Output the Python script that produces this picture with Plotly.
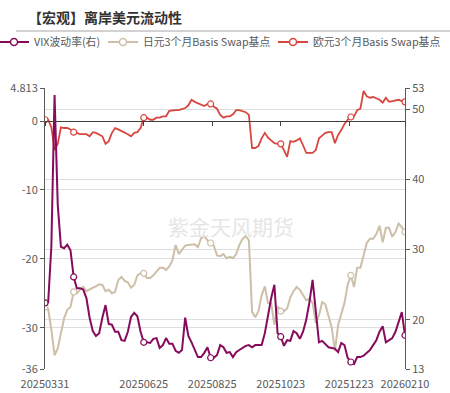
import plotly.graph_objects as go
import pandas as pd

# ---- data ----
dates = pd.bdate_range("2025-03-31", "2026-02-10").strftime("%Y%m%d").tolist()
sample_dates = dates[::2]
tick_labels = ["20250331", "20250625", "20250825", "20251023", "20251223", "20260210"]
marker_idx = [0, 9, 31, 52, 74, 96, 113]

vix = [22.4, 22.5, 30.5, 52.0, 36.4, 30.4, 30.2, 30.7, 29.9, 26.1,
       24.5, 24.5, 24.3, 23.1, 20.3, 18.4, 17.7, 18.1, 20.3, 22.1,
       19.4, 19.3, 18.3, 18.3, 17.1, 17.0, 18.3, 20.4, 21.0, 20.5,
       18.3, 16.8, 16.8, 16.7, 17.3, 17.4, 16.0, 16.4, 17.4, 16.6,
       16.6, 15.6, 15.3, 15.7, 20.3, 17.7, 16.8, 15.7, 14.7, 14.7,
       15.3, 16.1, 14.6, 14.6, 15.0, 16.4, 16.1, 15.3, 15.4, 14.7,
       15.4, 15.7, 16.0, 16.3, 16.4, 16.1, 16.4, 16.4, 16.4, 18.1,
       20.8, 23.1, 25.0, 18.1, 17.6, 16.3, 17.1, 17.0, 18.4, 18.1,
       17.3, 18.3, 20.0, 22.5, 25.7, 21.7, 16.8, 17.0, 16.6, 16.1,
       16.0, 15.9, 15.4, 16.7, 16.4, 14.6, 14.0, 13.7, 14.7, 14.7,
       14.9, 15.3, 15.7, 16.4, 17.1, 18.3, 19.1, 16.8, 17.1, 17.4,
       18.3, 19.7, 21.1, 17.8]

yen = [-27.0, -27.3, -30.3, -34.0, -33.0, -30.8, -28.6, -27.4, -27.0, -24.8,
       -25.0, -24.5, -24.1, -24.7, -24.4, -24.2, -24.0, -23.7, -23.8, -24.7,
       -24.5, -25.0, -24.8, -23.1, -22.6, -23.2, -23.4, -24.2, -23.8, -22.4,
       -22.1, -22.1, -22.8, -22.8, -22.4, -21.9, -21.3, -21.3, -21.6, -21.1,
       -20.2, -18.0, -19.3, -18.7, -18.1, -18.0, -17.9, -17.9, -18.3, -17.0,
       -16.7, -17.3, -17.7, -18.1, -19.5, -19.6, -19.3, -19.9, -19.7, -19.9,
       -19.3, -18.0, -17.1, -16.7, -17.3, -27.7, -28.5, -27.6, -25.3, -24.0,
       -26.4, -26.4, -29.6, -26.9, -27.6, -27.6, -27.2, -25.6, -24.7, -24.1,
       -24.5, -25.3, -26.0, -25.8, -26.4, -29.3, -28.2, -26.3, -26.6, -28.3,
       -30.0, -33.4, -29.6, -28.0, -26.4, -23.8, -22.4, -24.1, -21.3, -21.3,
       -19.5, -17.7, -17.1, -17.1, -16.4, -15.2, -17.6, -15.5, -15.5, -16.8,
       -16.1, -14.9, -15.4, -16.1]

eur = [0.2, 0.2, -0.9, -4.2, -3.3, -0.9, -1.0, -1.0, -1.2, -1.6,
       -1.7, -1.9, -1.9, -1.9, -2.2, -1.6, -1.7, -1.9, -2.2, -3.3,
       -2.9, -1.7, -1.0, -1.2, -1.4, -1.7, -1.9, -2.2, -1.7, -1.6,
       -1.0, 0.5, 0.5, 0.2, 0.2, 0.5, 0.5, 0.7, 0.7, 1.5,
       1.6, 1.6, 1.6, 1.8, 1.9, 2.3, 3.1, 2.8, 2.6, 2.4,
       2.2, 2.5, 2.5, 2.1, 1.8, 0.9, 0.5, 0.7, 0.7, 1.0,
       1.6, 1.6, 1.5, 1.3, 0.9, -3.9, -3.9, -3.6, -2.5, -1.7,
       -2.4, -2.8, -3.2, -3.3, -3.3, -4.2, -5.2, -2.9, -3.0, -2.8,
       -2.5, -3.5, -4.6, -4.6, -4.6, -4.2, -2.5, -2.1, -1.7, -1.6,
       -1.6, -3.2, -2.0, -1.3, -0.4, 0.2, 0.6, 0.7, 1.6, 1.8,
       4.4, 3.6, 3.4, 3.5, 3.3, 3.1, 2.7, 3.4, 2.8, 2.9,
       3.1, 3.1, 2.9, 2.8]

left_ticks = [-36, -30, -20, -10, 0, 4.813]
left_ticktext = ["-36", "-30", "-20", "-10", "0", "4.813"]
right_ticks = [13, 20, 30, 40, 50, 53]

names = ["VIX波动率(右)", "日元3个月Basis Swap基点", "欧元3个月Basis Swap基点"]
C_VIX, C_YEN, C_EUR = "#870B5C", "#CDBFA8", "#D8463F"
FONT = "Noto Sans CJK SC"

fig = go.Figure()

fig.add_annotation(text="紫金天风期货", xref="paper", yref="paper",
                   x=(231 - 45) / 360, y=(369 - 226) / 281, xanchor="center", yanchor="middle",
                   showarrow=False, font=dict(family=FONT, size=21, color="#e6e6e6"))

# main lines
fig.add_trace(go.Scatter(x=sample_dates, y=yen, mode="lines", line=dict(color=C_YEN, width=2),
                         yaxis="y", showlegend=False, hoverinfo="skip"))
fig.add_trace(go.Scatter(x=sample_dates, y=eur, mode="lines", line=dict(color=C_EUR, width=1.8),
                         yaxis="y", showlegend=False, hoverinfo="skip"))
fig.add_trace(go.Scatter(x=sample_dates, y=vix, mode="lines", line=dict(color=C_VIX, width=2),
                         yaxis="y2", showlegend=False, hoverinfo="skip"))

# sparse hollow markers
for ser, col, ax in [(yen, C_YEN, "y"), (eur, C_EUR, "y"), (vix, C_VIX, "y2")]:
    fig.add_trace(go.Scatter(x=[sample_dates[k] for k in marker_idx], y=[ser[k] for k in marker_idx],
                             mode="markers", yaxis=ax, showlegend=False, hoverinfo="skip",
                             marker=dict(symbol="circle", size=6, color="white",
                                         line=dict(color=col, width=1.2))))

# zero-line axis with ticks
fig.add_trace(go.Scatter(x=[0, len(dates) - 1], y=[None, None], xaxis="x2", yaxis="y",
                         showlegend=False, hoverinfo="skip"))

# legend entries
for nm, col, lg in [(names[0], C_VIX, "legend"), (names[1], C_YEN, "legend2"), (names[2], C_EUR, "legend3")]:
    fig.add_trace(go.Scatter(x=[None], y=[None], name=nm, mode="lines+markers", legend=lg,
                             line=dict(color=col, width=2),
                             marker=dict(symbol="circle", size=7, color="white", line=dict(color=col, width=1.5))))

L, R, T, B = 45, 45, 88, 24
W, H = 450, 393
pw, ph = W - L - R, H - T - B


def px_x(px):
    return (px - L) / pw


def px_y(py):
    return (H - B - py) / ph


leg_common = dict(orientation="h", yanchor="middle", xanchor="left", y=px_y(42),
                  font=dict(family=FONT, size=10.8, color="#595959"), bgcolor="rgba(0,0,0,0)",
                  itemwidth=30, borderwidth=0)

fig.update_layout(
    width=W, height=H,
    margin=dict(l=L, r=R, t=T, b=B, autoexpand=False),
    paper_bgcolor="white", plot_bgcolor="white",
    font=dict(family=FONT, size=11, color="#595959"),
    xaxis=dict(type="category", categoryorder="array", categoryarray=dates,
               range=[0, len(dates) - 1], tickmode="array", tickvals=tick_labels,
               ticks="", showgrid=False, showline=False, zeroline=False, ticklabelstandoff=7,
               tickfont=dict(family=FONT, size=11, color="#595959")),
    xaxis2=dict(overlaying="x", anchor="free", position=36 / 40.813, side="bottom",
                range=[0, len(dates) - 1], type="linear",
                tickmode="array", tickvals=[dates.index(t) for t in tick_labels],
                showticklabels=False, ticks="outside", ticklen=4, tickcolor="#404040",
                showline=True, linecolor="#404040", linewidth=1, showgrid=False, zeroline=False),
    yaxis=dict(range=[-36, 4.813], tickmode="array", tickvals=left_ticks, ticktext=left_ticktext,
               showline=True, linecolor="#595959", ticks="outside", ticklen=4, tickcolor="#595959",
               showgrid=True, gridcolor="#dedede", gridwidth=1, zeroline=False,
               tickfont=dict(family=FONT, size=11, color="#595959")),
    yaxis2=dict(overlaying="y", side="right", range=[13, 53], tickmode="array", tickvals=right_ticks,
                showline=True, linecolor="#595959", ticks="outside", ticklen=4, tickcolor="#595959",
                showgrid=True, gridcolor="#dedede", gridwidth=1, zeroline=False,
                tickfont=dict(family=FONT, size=11, color="#595959")),
    legend=dict(x=px_x(-6), **leg_common),
    legend2=dict(x=px_x(103), **leg_common),
    legend3=dict(x=px_x(273), **leg_common),
    showlegend=True,
)

fig.add_shape(type="line", xref="paper", yref="paper", x0=px_x(16), x1=px_x(450),
              y0=px_y(31), y1=px_y(31), line=dict(color="#a6a6a6", width=1))

fig.add_annotation(text="<b>【宏观】离岸美元流动性</b>", xref="paper", yref="paper",
                   x=px_x(26), y=px_y(17), xanchor="left", yanchor="middle", showarrow=False,
                   font=dict(family=FONT, size=14, color="#333333"))

fig.write_html("out.html", config={"displayModeBar": False},
               post_script="document.body.style.margin='0px';")
